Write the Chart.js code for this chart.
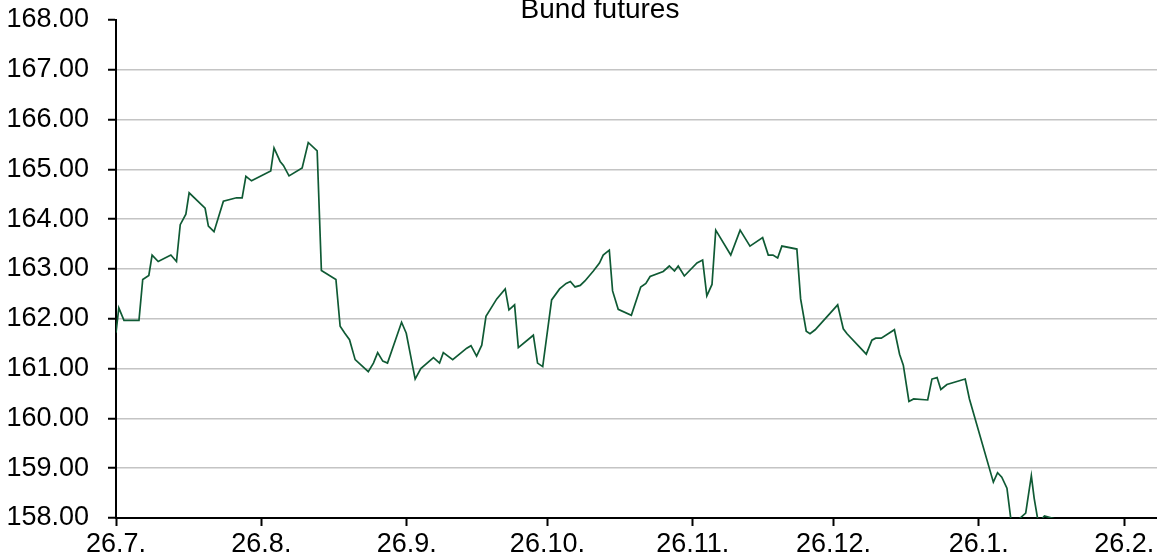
<!DOCTYPE html>
<html>
<head>
<meta charset="utf-8">
<title>Bund futures</title>
<script src="https://cdn.jsdelivr.net/npm/chart.js@4/dist/chart.umd.min.js"></script>
<style>
  html, body { margin: 0; padding: 0; background: #fff; }
  #wrap { width: 1157px; height: 552px; position: relative; }
</style>
</head>
<body>
<div id="wrap"><canvas id="myChart"></canvas></div>
<script>
// days since 26.7. for each quote
const days = [
    0, 0.6, 1.7, 4.9, 5.7, 7.0, 7.7, 9.0, 11.7, 12.9,
    13.7, 14.9, 15.6, 19.0, 19.7, 20.9, 22.9, 25.7, 26.9, 27.7,
    28.9, 33.0, 33.7, 35.0, 35.7, 36.9, 39.7, 41.0, 42.9, 43.8,
    46.9, 47.8, 48.8, 49.8, 51.0, 53.8, 54.9, 55.8, 56.9, 57.9,
    60.9, 61.9, 63.8, 65.0, 67.7, 69.0, 69.8, 71.8, 74.8, 75.7,
    76.9, 78.0, 78.9, 81.2, 83.0, 83.8, 85.0, 85.8, 89.0, 89.9,
    91.0, 92.9, 94.6, 96.0, 96.9, 97.9, 99.0, 100.0, 101.8, 103.1,
    103.9, 105.2, 105.9, 107.1, 109.9, 111.9, 113.0, 113.9, 116.7, 118.0,
    119.1, 119.9, 121.2, 123.9, 125.1, 126.0, 127.1, 127.9, 131.1, 133.1,
    135.2, 137.9, 139.1, 140.1, 141.1, 142.0, 145.2, 146.0, 147.2, 148.0,
    149.1, 153.9, 155.1, 155.9, 160.0, 161.2, 162.0, 163.2, 166.0, 167.1,
    167.9, 169.1, 170.1, 173.1, 174.0, 175.1, 175.9, 177.2, 181.1, 182.0,
    187.1, 188.0, 188.9, 190.0, 191.2, 192.6, 194.0, 195.2, 195.8, 196.7,
    198.0, 200.3, 201.4
];

const bund = [
    161.72, 162.22, 161.97, 161.97, 162.79, 162.87, 163.28, 163.15, 163.28, 163.15,
    163.89, 164.10, 164.53, 164.22, 163.86, 163.75, 164.36, 164.43, 164.43, 164.86,
    164.77, 164.97, 165.43, 165.16, 165.08, 164.87, 165.03, 165.54, 165.37, 162.97,
    162.79, 161.85, 161.71, 161.58, 161.18, 160.94, 161.11, 161.32, 161.15, 161.11,
    161.93, 161.71, 160.79, 161.00, 161.22, 161.11, 161.32, 161.18, 161.41, 161.46,
    161.25, 161.47, 162.05, 162.40, 162.60, 162.18, 162.28, 161.42, 161.67, 161.11,
    161.04, 162.38, 162.60, 162.71, 162.75, 162.64, 162.67, 162.76, 162.96, 163.12,
    163.28, 163.38, 162.56, 162.19, 162.07, 162.64, 162.71, 162.85, 162.95, 163.06,
    162.96, 163.06, 162.86, 163.12, 163.18, 162.46, 162.69, 163.78, 163.28, 163.78,
    163.46, 163.63, 163.28, 163.28, 163.22, 163.46, 163.40, 162.40, 161.75, 161.70,
    161.78, 162.28, 161.80, 161.70, 161.29, 161.57, 161.61, 161.61, 161.78, 161.29,
    161.07, 160.34, 160.39, 160.37, 160.79, 160.82, 160.58, 160.68, 160.79, 160.39,
    158.72, 158.91, 158.82, 158.60, 157.70, 157.98, 158.10, 158.85, 158.40, 157.90,
    158.04, 157.98, 157.80
];

const tickDays = [0, 31, 62, 92, 123, 153, 184, 215];
const tickLabels = ['26.7.', '26.8.', '26.9.', '26.10.', '26.11.', '26.12.', '26.1.', '26.2.'];
const yTicks = [158, 159, 160, 161, 162, 163, 164, 165, 166, 167, 168];

const fontFam = '"Liberation Sans", Arial, sans-serif';

const titlePlugin = {
    id: 'topTitle',
    afterDraw(chart) {
        const c = chart.ctx;
        c.save();
        c.font = '28px ' + fontFam;
        c.fillStyle = '#000';
        c.textAlign = 'center';
        c.textBaseline = 'alphabetic';
        c.fillText('Bund futures', 600, 18);
        c.restore();
    }
};

const ctx = document.getElementById('myChart').getContext('2d');

new Chart(ctx, {
    type: 'line',
    data: {
        datasets: [{
            label: 'Bund futures',
            data: days.map((d, i) => ({ x: d, y: bund[i] })),
            borderColor: '#0f5a34',
            borderWidth: 1.7,
            pointRadius: 0,
            tension: 0,
            fill: false
        }]
    },
    options: {
        responsive: true,
        maintainAspectRatio: false,
        animation: false,
        layout: { padding: { top: 20, left: 0, right: 0, bottom: 0 } },
        plugins: {
            legend: { display: false },
            tooltip: { enabled: false }
        },
        scales: {
            x: {
                type: 'linear',
                min: 0,
                max: 222,
                afterBuildTicks: s => { s.ticks = tickDays.map(v => ({ value: v })); },
                afterFit: s => { s.height = 34; s.paddingLeft = 0; s.paddingRight = 0; },
                ticks: {
                    autoSkip: false,
                    maxRotation: 0,
                    padding: 2,
                    color: '#000',
                    font: { family: fontFam, size: 27 },
                    callback: (v, i) => tickLabels[i]
                },
                grid: {
                    drawOnChartArea: false,
                    tickLength: 8,
                    tickColor: '#000',
                    tickWidth: 2
                },
                border: { color: '#000', width: 2 }
            },
            y: {
                min: 158,
                max: 168,
                afterBuildTicks: s => { s.ticks = yTicks.map(v => ({ value: v })); },
                afterFit: s => { s.width = 116; s.paddingTop = 0; s.paddingBottom = 0; },
                ticks: {
                    padding: 19,
                    color: '#000',
                    font: { family: fontFam, size: 27 },
                    callback: v => v.toFixed(2)
                },
                grid: {
                    color: c => (c.tick && c.tick.value === 168) ? 'rgba(0,0,0,0)' : '#c4c4c4',
                    lineWidth: 1.5,
                    tickLength: 8,
                    tickColor: '#000',
                    tickWidth: 2
                },
                border: { color: '#000', width: 2 }
            }
        }
    },
    plugins: [titlePlugin]
});
</script>
</body>
</html>
